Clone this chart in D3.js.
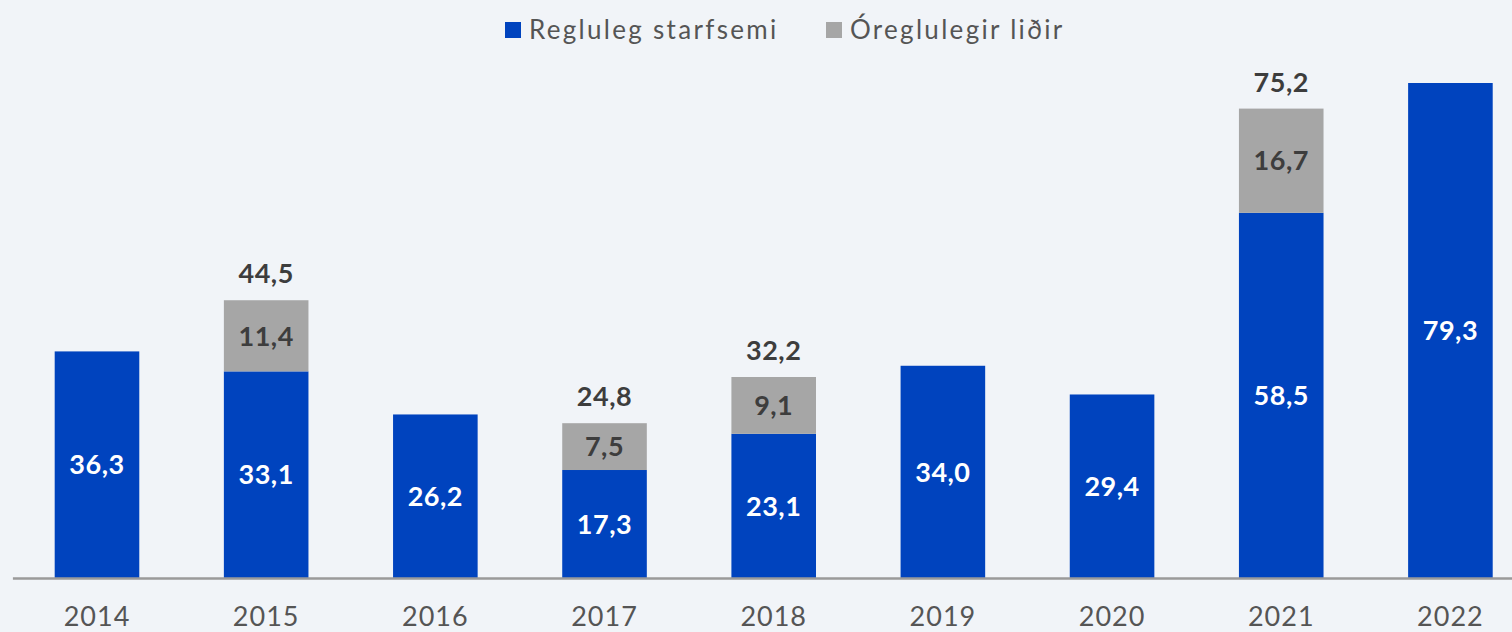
<!DOCTYPE html>
<html>
<head>
<meta charset="utf-8">
<script src="https://cdn.jsdelivr.net/npm/d3@7"></script>
<style>
  body { margin: 0; background: #f1f4f8; overflow: hidden; }
  svg { display: block; font-family: Lato, "Open Sans", sans-serif; }
</style>
</head>
<body>
<div id="chart"></div>
<script>
// chart data
const years = ["2014", "2015", "2016", "2017", "2018", "2019", "2020", "2021", "2022"];
const regular = [36.3, 33.1, 26.2, 17.3, 23.1, 34.0, 29.4, 58.5, 79.3];
const irregular = [0, 11.4, 0, 7.5, 9.1, 0, 0, 16.7, 0];
const seriesNames = ["Regluleg starfsemi", "Óreglulegir liðir"];

const width = 1512, height = 632;
const marginTop = 83, marginBottom = 54;
const blue = "#0043be", grey = "#a6a6a6";

const fmt = v => d3.format(".1f")(v).replace(".", ",");

const data = years.map((y, i) => ({year: y, regular: regular[i], irregular: irregular[i]}));
const stack = d3.stack().keys(["regular", "irregular"])(data);

const x = d3.scaleBand(years, [12.4, 1535]).paddingInner(0.5).paddingOuter(0.25);
const y = d3.scaleLinear([0, 79.3], [height - marginBottom, marginTop]);
const color = d3.scaleOrdinal(["regular", "irregular"], [blue, grey]);

const svg = d3.select("#chart").append("svg")
    .attr("width", width)
    .attr("height", height)
    .attr("viewBox", [0, 0, width, height]);

svg.append("g")
  .selectAll("g")
  .data(stack)
  .join("g")
    .attr("fill", d => color(d.key))
  .selectAll("rect")
  .data(d => d.filter(p => p[1] > p[0]))
  .join("rect")
    .attr("x", d => x(d.data.year))
    .attr("y", d => y(d[1]))
    .attr("width", x.bandwidth())
    .attr("height", d => y(d[0]) - y(d[1]));

// segment labels
svg.append("g")
  .selectAll("g")
  .data(stack)
  .join("g")
    .attr("fill", d => d.key === "regular" ? "#fff" : "#3d3d3d")
  .selectAll("text")
  .data(d => d.filter(p => p[1] > p[0]))
  .join("text")
    .attr("x", d => x(d.data.year) + x.bandwidth() / 2)
    .attr("y", d => (y(d[0]) + y(d[1])) / 2)
    .attr("dy", "0.36em")
    .attr("text-anchor", "middle")
    .attr("font-size", 27)
    .attr("font-weight", 700)
    .attr("letter-spacing", 0.5)
    .text(d => fmt(d[1] - d[0]));

// totals on stacked bars
svg.append("g")
  .selectAll("text")
  .data(data.filter(d => d.irregular > 0))
  .join("text")
    .attr("x", d => x(d.year) + x.bandwidth() / 2)
    .attr("y", d => y(d.regular + d.irregular) - 17)
    .attr("text-anchor", "middle")
    .attr("font-size", 27)
    .attr("font-weight", 700)
    .attr("letter-spacing", 0.5)
    .attr("fill", "#3d3d3d")
    .text(d => fmt(d.regular + d.irregular));

// x axis
svg.append("g")
    .attr("transform", `translate(0,${height - marginBottom})`)
    .call(d3.axisBottom(x).tickSize(0).tickPadding(29).tickSizeOuter(0))
    .call(g => g.select(".domain").attr("stroke", "#9a9a9a").attr("stroke-width", 2.5))
    .call(g => g.selectAll("text")
        .attr("font-size", 27)
        .attr("font-family", "Lato, 'Open Sans', sans-serif")
        .attr("letter-spacing", 1)
        .attr("fill", "#555"));

// legend
const legend = svg.append("g");
const items = [
  {name: seriesNames[0], color: blue, x: 505},
  {name: seriesNames[1], color: grey, x: 826}
];
const li = legend.selectAll("g").data(items).join("g")
    .attr("transform", d => `translate(${d.x},22)`);
li.append("rect").attr("width", 16).attr("height", 16).attr("fill", d => d.color);
li.append("text")
    .attr("x", 24).attr("y", 8).attr("dy", "0.36em")
    .attr("font-size", 26).attr("fill", "#555")
    .attr("letter-spacing", 2.3)
    .text(d => d.name);
</script>
</body>
</html>
